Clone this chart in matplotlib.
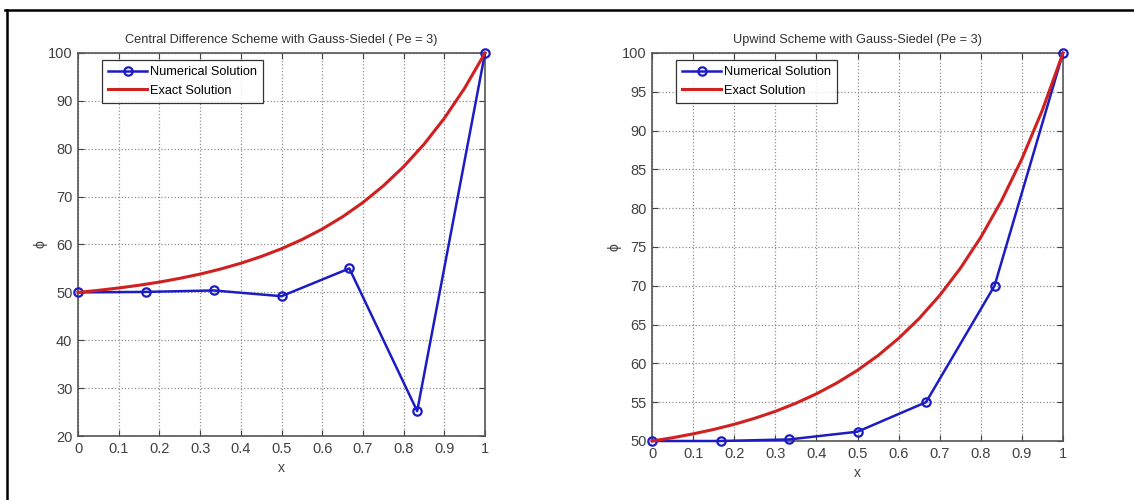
import matplotlib.pyplot as plt
from matplotlib.lines import Line2D

plt.rcParams['font.family'] = ['Liberation Sans', 'DejaVu Sans']

# numerical solution nodes
x_num = [0, 1/6, 1/3, 1/2, 2/3, 5/6, 1]
phi_cds = [50, 50.1, 50.4, 49.2, 55.0, 25.2, 100]
phi_upw = [50, 50.0, 50.2, 51.2, 55.0, 70.0, 100]

# exact solution
x_exact = [0, 0.05, 0.1, 0.15, 0.2, 0.25, 0.3, 0.35, 0.4, 0.45, 0.5,
           0.55, 0.6, 0.65, 0.7, 0.75, 0.8, 0.85, 0.9, 0.95, 1.0]
phi_exact = [50, 50.42, 50.92, 51.49, 52.15, 52.93, 53.82, 54.87, 56.08, 57.49, 59.12,
             61.02, 63.23, 65.79, 68.77, 72.24, 76.26, 80.93, 86.36, 92.67, 100]

titles = ["Central Difference Scheme with Gauss-Siedel ( Pe = 3)",
          "Upwind Scheme with Gauss-Siedel (Pe = 3)"]
xticks = [0, 0.1, 0.2, 0.3, 0.4, 0.5, 0.6, 0.7, 0.8, 0.9, 1]
xticklabels = ["0", "0.1", "0.2", "0.3", "0.4", "0.5", "0.6", "0.7", "0.8", "0.9", "1"]
yticks_left = [20, 30, 40, 50, 60, 70, 80, 90, 100]
yticks_right = [50, 55, 60, 65, 70, 75, 80, 85, 90, 95, 100]

BLUE = '#1c1cc4'
RED = '#d02020'

fig = plt.figure(figsize=(11.34, 5), dpi=100)
ax1 = fig.add_axes([0.0688, 0.128, 0.3589, 0.766])
ax2 = fig.add_axes([0.575, 0.118, 0.3624, 0.776])

panels = [(ax1, phi_cds, yticks_left), (ax2, phi_upw, yticks_right)]
for i, (ax, phi, yt) in enumerate(panels):
    ax.plot(x_num, phi, '-o', color=BLUE, lw=1.8, ms=6, mfc='none', mew=1.6,
            label='Numerical Solution', clip_on=False, zorder=3)
    ax.plot(x_exact, phi_exact, '-', color=RED, lw=2.2,
            label='Exact Solution', clip_on=False, zorder=4)
    ax.set_xlim(0, 1)
    ax.set_ylim(yt[0], yt[-1])
    ax.set_xticks(xticks)
    ax.set_xticklabels(xticklabels)
    ax.set_yticks(yt)
    ax.grid(True, linestyle=':', color='#909090', linewidth=0.9)
    ax.tick_params(direction='in', top=True, right=True, length=4,
                   labelsize=10.5, colors='#404040', pad=4)
    for s in ax.spines.values():
        s.set_color('#555555')
        s.set_linewidth(1.2)
    ax.set_title(titles[i], fontsize=9.2, color='#303030', pad=7)
    ax.set_xlabel('x', fontsize=10, color='#404040', labelpad=4)
    ax.set_ylabel('\u03d5', fontsize=10, color='#404040', labelpad=0)
    bb = ax.get_position()
    w_px = bb.width * 1134
    h_px = bb.height * 500
    leg = ax.legend(loc='upper left', bbox_to_anchor=(24 / w_px, 1 - 7 / h_px),
                    borderaxespad=0, fontsize=9.2, fancybox=False,
                    handlelength=3.0, labelspacing=0.5,
                    borderpad=0.5, handletextpad=0.25)
    leg.get_frame().set_edgecolor('black')
    leg.get_frame().set_linewidth(0.9)

# outer frame lines
fig.add_artist(Line2D([5 / 1134, 1], [1 - 10 / 500, 1 - 10 / 500],
                      color='black', lw=1.8, transform=fig.transFigure))
fig.add_artist(Line2D([7 / 1134, 7 / 1134], [0, 1 - 10 / 500],
                      color='black', lw=1.8, transform=fig.transFigure))

fig.savefig('out.png', dpi=100)
